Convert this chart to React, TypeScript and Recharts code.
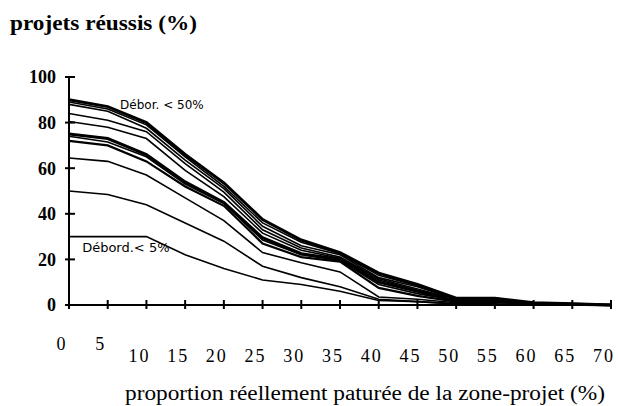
import { LineChart, Line, XAxis, YAxis, ReferenceDot } from 'recharts';

// proportion réellement paturée (%)
const xValues = [0, 5, 10, 15, 20, 25, 30, 35, 40, 45, 50, 55, 60, 65, 70];
const xTicks = [0, 5, 10, 15, 20, 25, 30, 35, 40, 45, 50, 55, 60, 65, 70];
const yTicks = [0, 20, 40, 60, 80, 100];

// projets réussis (%) — one curve per débordement level, top = Débor. < 50%
const deb50 = [90, 87, 80, 66, 53.5, 37.5, 28.5, 23, 14, 9, 3, 3, 1, 0.5, 0];
const debB = [89, 86, 79, 65, 52, 36, 27.5, 22.5, 13, 8.5, 3, 3, 1, 0.5, 0];
const debC = [88, 85, 77.5, 63.5, 51, 34.5, 26, 22, 12, 8, 2.5, 2.5, 1, 0.5, 0];
const debD = [84, 81, 76, 62, 49.5, 33, 25, 21, 11.5, 7, 2.5, 2.5, 1, 0.3, 0];
const debE = [80.5, 78, 73, 59, 47.5, 31.5, 24, 20.5, 11, 6.5, 2, 2, 0.8, 0.3, 0];
const debF = [75, 73, 66, 54, 45, 29.5, 22.5, 20, 10, 6, 2, 2, 0.8, 0.3, 0];
const debG = [74, 71.5, 65, 53, 44.5, 28.5, 22, 19.5, 9, 5, 2, 1.5, 0.5, 0.3, 0];
const debH = [72, 70, 63, 52, 43.5, 27, 21, 19, 7.5, 4, 1.5, 1.5, 0.5, 0, 0];
const debI = [64.5, 63, 57, 47, 37, 23, 18.5, 14.5, 3.5, 2.5, 1, 1, 0.5, 0, 0];
const debJ = [50, 48.5, 44, 36, 28, 17, 12, 8, 2.5, 1.5, 0.5, 0.5, 0, 0, 0];
const deb5 = [30, 30, 30, 22, 16, 11, 9, 6, 2, 1.5, 0.5, 0, 0, 0, 0];

const curves = [deb50, debB, debC, debD, debE, debF, debG, debH, debI, debJ, deb5];
const widths = [3, 1.6, 1.6, 1.6, 1.6, 3, 1.6, 2.2, 1.6, 1.6, 1.6];

const rows = xValues.map((x, i) => {
  const r: any = { x };
  curves.forEach((c, k) => { r['s' + k] = c[i]; });
  return r;
});

const SERIF = '"Liberation Serif", "Times New Roman", serif';
const SANS = '"DejaVu Sans", sans-serif';

function XTick({ x, y, payload }: any) {
  const raised = payload.value < 10;
  return (
    <g>
      <line x1={x} x2={x} y1={y - 5} y2={y + 4} stroke="#000" strokeWidth={2} />
      <text x={x - 7} y={y + (raised ? 45 : 57)} textAnchor="middle"
        fontFamily={SERIF} fontSize={18} letterSpacing={2} fill="#000">
        {payload.value}
      </text>
    </g>
  );
}

function YTick({ x, y, payload }: any) {
  return (
    <g>
      <line x1={x - 4} x2={x + 6} y1={y} y2={y} stroke="#000" strokeWidth={2} />
      <text x={x - 13} y={y} dy="0.35em" textAnchor="end"
        fontFamily={SERIF} fontSize={18} fontWeight="bold" fill="#000">
        {payload.value}
      </text>
    </g>
  );
}

const note = (label: string, size: number) => (p: any) => (
  <text x={p.cx} y={p.cy} dy="0.35em" fontFamily={SANS} fontSize={size} fill="#000">{label}</text>
);

export default function App() {
  return (
    <div style={{ position: 'relative', width: 618, height: 406, background: '#fff' }}>
      <style>{'body{margin:0}'}</style>
      <LineChart width={618} height={406} data={rows} margin={{ top: 77, right: 7, bottom: 41, left: 0 }}>
        <XAxis dataKey="x" type="number" domain={[0, 70]} ticks={xTicks} interval={0}
          height={60} tickSize={0} tickMargin={0} tickLine={false}
          axisLine={{ stroke: '#000', strokeWidth: 2 }} tick={<XTick />} />
        <YAxis type="number" domain={[0, 100]} ticks={yTicks} interval={0}
          width={69} tickSize={0} tickMargin={0} tickLine={false}
          axisLine={{ stroke: '#000', strokeWidth: 2 }} tick={<YTick />} />
        {curves.map((_, k) => (
          <Line key={k} dataKey={'s' + k} type="linear" stroke="#000" strokeWidth={widths[k]}
            dot={false} activeDot={false} isAnimationActive={false} />
        ))}
        <ReferenceDot x={6.6} y={87.7} r={1} shape={note('Débor. < 50%', 12)} />
        <ReferenceDot x={1.7} y={25.4} r={1} shape={note('Débord.< 5%', 13)} />
      </LineChart>
      <svg width={618} height={406} style={{ position: 'absolute', left: 0, top: 0, pointerEvents: 'none' }}>
        <text x={10} y={30} fontFamily={SERIF} fontSize={20} fontWeight="bold" textLength={187}
          lengthAdjust="spacingAndGlyphs" fill="#000">projets réussis (%)</text>
        <text x={125} y={400} fontFamily={SERIF} fontSize={20} textLength={480}
          lengthAdjust="spacingAndGlyphs" fill="#000">proportion réellement paturée de la zone-projet (%)</text>
      </svg>
    </div>
  );
}
